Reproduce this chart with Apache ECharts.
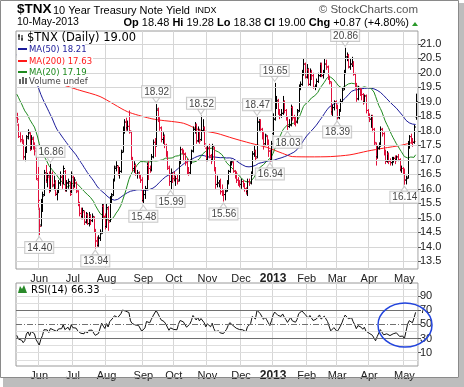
<!DOCTYPE html>
<html><head><meta charset="utf-8">
<script src="https://cdn.jsdelivr.net/npm/echarts@6/dist/echarts.min.js"></script>
<style>html,body{margin:0;padding:0;background:#fff}#c{width:464px;height:387px}</style>
</head><body><div id="c"></div>
<script>
// ---- DATA ----
// closes before the first visible bar (Mar 2 – May 10, 2012), used to warm up MA and RSI
const preCloses = [19.8,19.9,19.4,19.9,20.2,20.3,20.4,21.2,22.7,22.8,23.0,23.8,23.6,22.9,22.8,22.3,22.5,22.0,22.0,21.8,22.1,
  21.8,22.9,22.4,21.7,20.4,20.0,20.3,20.5,19.8,19.9,20.1,19.7,19.6,19.6,19.3,19.7,19.9,19.5,19.3,19.1,
  19.5,19.3,19.3,18.8,18.8,18.5,18.4,18.5];
// daily [open, high, low, close]
const may12 = [[18.45,18.62,18.27,18.40],[18.20,18.25,17.75,17.80],[17.80,17.95,17.60,17.65],[17.70,17.85,17.55,17.60],[17.60,17.70,17.00,17.10],[17.10,17.45,16.95,17.25],[17.30,17.85,17.25,17.75],[17.80,18.05,17.70,17.95],[17.90,17.95,17.30,17.35],[17.40,17.85,17.35,17.75],[17.70,17.80,17.35,17.45],[17.50,17.60,17.15,17.40],[17.30,17.40,16.30,16.35],[16.30,16.75,15.35,15.60]];
const jun12 = [[15.30,15.35,14.40,14.70],[14.75,15.65,14.70,15.30],[15.30,15.90,15.20,15.75],[15.80,16.65,15.75,16.55],[16.50,16.82,16.20,16.35],[16.30,16.55,16.05,16.45],[16.40,16.60,15.85,15.95],[15.95,16.86,15.90,16.50],[16.50,16.60,16.05,16.15],[16.10,16.45,15.95,16.20],[16.20,16.30,15.75,15.85],[15.80,16.00,15.60,15.90],[15.90,16.30,15.85,16.20],[16.20,16.60,16.10,16.40],[16.40,16.50,16.00,16.20],[16.20,16.80,16.15,16.70],[16.60,16.65,15.90,15.95],[15.95,16.30,15.90,16.20],[16.20,16.35,16.00,16.25],[16.20,16.25,15.75,15.80],[15.90,16.60,15.85,16.50]];
const jul12 = [[16.40,16.45,15.95,16.05],[16.10,16.40,16.05,16.30],[16.20,16.25,15.85,15.95],[15.90,15.95,15.40,15.50],[15.50,15.55,15.05,15.15],[15.15,15.35,14.95,15.05],[15.05,15.35,14.95,15.25],[15.20,15.25,14.75,14.85],[14.85,15.20,14.80,15.15],[15.10,15.15,14.75,14.80],[14.80,15.20,14.70,15.10],[15.05,15.10,14.75,14.90],[14.90,15.15,14.85,15.05],[15.00,15.05,14.50,14.60],[14.55,14.60,13.94,14.20],[14.20,14.35,14.00,14.05],[14.05,14.40,14.00,14.30],[14.30,14.60,14.20,14.45],[14.50,15.50,14.45,15.45],[15.40,15.45,14.95,15.05],[15.05,15.15,14.60,14.70]];
const aug12 = [[14.70,15.50,14.65,15.35],[15.30,15.40,14.55,14.85],[14.90,15.75,14.85,15.65],[15.60,15.85,15.50,15.75],[15.80,16.35,15.75,16.30],[16.30,16.80,16.25,16.75],[16.70,16.95,16.60,16.80],[16.75,16.80,16.45,16.55],[16.50,16.75,16.35,16.60],[16.60,17.35,16.55,17.25],[17.30,18.15,17.25,18.10],[18.10,18.40,17.90,18.30],[18.30,18.45,18.00,18.10],[18.10,18.35,18.00,18.15],[18.15,18.70,17.90,18.00],[17.95,18.00,17.00,17.05],[17.00,17.10,16.60,16.70],[16.70,16.95,16.55,16.85],[16.80,16.85,16.45,16.50],[16.50,16.65,16.35,16.55],[16.50,16.60,16.35,16.45],[16.45,16.50,16.20,16.30],[16.30,16.40,15.55,15.65]];
const sep12 = [[15.60,15.95,15.48,15.80],[15.80,16.10,15.65,16.00],[16.00,16.90,15.95,16.80],[16.80,16.95,16.30,16.70],[16.70,16.80,16.55,16.65],[16.65,17.20,16.60,17.10],[17.10,17.70,17.05,17.60],[17.60,17.75,17.10,17.50],[17.50,18.92,17.45,18.75],[18.70,18.80,18.30,18.45],[18.40,18.45,18.00,18.10],[18.10,18.15,17.60,17.70],[17.70,17.95,17.55,17.85],[17.80,17.85,17.40,17.50],[17.50,17.55,17.10,17.20],[17.20,17.30,16.65,16.75],[16.70,16.80,16.10,16.25],[16.25,16.70,15.99,16.55],[16.50,16.55,16.20,16.35]];
const oct12 = [[16.35,16.60,16.25,16.30],[16.30,16.45,16.10,16.35],[16.35,16.50,16.15,16.25],[16.30,17.00,16.25,16.90],[16.90,17.45,16.85,17.35],[17.35,17.40,17.20,17.30],[17.30,17.35,16.95,17.20],[17.20,17.25,16.80,16.90],[16.90,17.05,16.50,16.60],[16.60,16.75,16.45,16.55],[16.55,17.00,16.50,16.90],[16.90,17.35,16.85,17.30],[17.30,18.15,17.25,18.05],[18.05,18.30,17.90,18.20],[18.20,18.25,17.55,17.65],[17.65,18.15,17.60,18.05],[18.00,18.05,17.55,17.65],[17.70,18.52,17.65,18.00],[18.00,18.40,17.95,18.10],[18.10,18.15,17.45,17.55],[17.40,17.45,16.95,17.00]];
const nov12 = [[17.00,17.50,16.95,17.40],[17.40,17.55,17.05,17.15],[17.10,17.20,16.85,17.00],[17.00,17.55,16.95,17.45],[17.40,17.45,16.60,16.70],[16.70,16.75,16.00,16.15],[16.15,16.45,16.05,16.20],[16.20,16.30,16.05,16.25],[16.20,16.35,15.80,15.90],[15.90,16.15,15.75,15.85],[15.85,15.95,15.56,15.80],[15.80,16.00,15.60,15.90],[15.95,16.30,15.90,16.20],[16.20,16.65,16.15,16.60],[16.60,16.95,16.55,16.90],[16.90,17.00,16.80,16.95],[16.90,16.95,16.55,16.60],[16.60,16.65,16.35,16.40],[16.40,16.60,16.20,16.30],[16.30,16.40,16.10,16.20],[16.20,16.30,16.05,16.15]];
const dec12 = [[16.15,16.35,16.00,16.25],[16.25,16.30,16.05,16.10],[16.10,16.20,15.90,16.00],[16.00,16.05,15.80,15.90],[15.90,16.35,15.75,16.25],[16.25,16.35,16.10,16.20],[16.20,16.60,16.15,16.50],[16.50,17.30,16.45,17.20],[17.20,17.50,17.10,17.30],[17.30,17.35,16.95,17.05],[17.10,18.47,17.05,18.30],[18.30,18.40,18.00,18.35],[18.35,18.40,17.95,18.05],[18.05,18.10,17.70,17.90],[17.90,17.95,17.35,17.55],[17.55,17.90,17.50,17.85],[17.80,17.85,17.50,17.60],[17.60,17.70,17.10,17.30],[17.30,17.35,16.94,17.00],[17.00,17.65,16.95,17.55]];
const jan13 = [[17.90,18.60,17.85,18.40],[18.40,19.65,18.35,19.00],[19.00,19.20,18.75,19.05],[19.00,19.10,18.55,18.70],[18.70,18.75,18.40,18.55],[18.55,18.75,18.45,18.60],[18.60,19.20,18.55,19.00],[19.00,19.05,18.60,18.70],[18.70,18.75,18.35,18.45],[18.45,18.50,18.03,18.15],[18.15,18.40,18.10,18.20],[18.20,18.90,18.15,18.80],[18.80,18.85,18.35,18.45],[18.45,18.55,18.20,18.40],[18.40,18.50,18.15,18.30],[18.30,18.75,18.25,18.65],[18.70,19.60,18.65,19.50],[19.50,19.70,19.40,19.60],[19.60,20.10,19.55,20.00],[20.00,20.50,19.90,20.30],[20.30,20.35,19.80,19.85]];
const feb13 = [[19.85,20.30,19.80,20.15],[20.10,20.15,19.55,19.60],[19.60,20.15,19.55,20.05],[20.00,20.10,19.75,19.90],[19.90,20.00,19.45,19.50],[19.50,19.60,19.40,19.55],[19.55,19.80,19.50,19.70],[19.70,20.00,19.65,19.90],[19.90,20.35,19.85,20.30],[20.30,20.35,19.85,19.90],[19.90,20.10,19.80,20.00],[20.00,20.50,19.95,20.30],[20.30,20.45,20.10,20.20],[20.20,20.25,19.75,19.80],[19.80,19.90,19.60,19.70],[19.65,19.70,18.55,18.65],[18.65,18.90,18.50,18.80],[18.80,19.05,18.70,19.00],[19.00,19.05,18.75,18.85]];
const mar13 = [[18.85,18.90,18.39,18.45],[18.45,18.75,18.40,18.70],[18.70,19.10,18.65,19.00],[19.00,19.50,18.95,19.40],[19.45,20.10,19.40,20.00],[20.05,20.86,19.95,20.55],[20.50,20.70,20.40,20.60],[20.60,20.65,20.15,20.20],[20.20,20.50,20.10,20.30],[20.30,20.55,20.20,20.35],[20.30,20.40,19.90,19.95],[19.95,20.00,19.45,19.60],[19.60,19.65,19.00,19.10],[19.10,19.55,19.05,19.45],[19.45,19.50,19.20,19.40],[19.40,19.45,19.05,19.25],[19.25,19.30,18.90,19.00],[19.00,19.25,18.95,19.20],[19.20,19.25,18.60,18.70],[18.70,18.75,18.45,18.50]];
const apr13 = [[18.50,18.60,18.30,18.40],[18.40,18.55,18.10,18.50],[18.50,18.55,17.95,18.05],[18.05,18.10,17.50,17.60],[17.55,17.60,16.80,17.05],[17.10,17.50,17.05,17.40],[17.40,17.60,17.35,17.50],[17.50,18.15,17.45,18.05],[18.05,18.10,17.80,17.90],[17.90,17.95,17.15,17.25],[17.25,17.35,16.85,16.95],[16.95,17.30,16.90,17.20],[17.20,17.25,16.85,16.95],[16.95,17.05,16.80,16.90],[16.90,17.10,16.80,17.00],[17.00,17.10,16.90,17.05],[17.05,17.15,16.85,17.00],[17.00,17.15,16.95,17.10],[17.10,17.20,16.95,17.00],[17.00,17.05,16.60,16.65],[16.65,16.80,16.55,16.70],[16.70,16.75,16.50,16.65]];
const may13 = [[16.65,16.70,16.14,16.30],[16.30,16.45,16.15,16.35],[16.40,17.65,16.35,17.40],[17.45,17.85,17.40,17.80],[17.80,17.90,17.55,17.70],[17.70,17.75,17.45,17.60],[17.60,18.20,17.55,18.13],[18.48,19.28,18.38,19.00]];
// market holidays in the window (for the trading-day category axis)
const holidays = ['2012-05-28','2012-07-04','2012-09-03','2012-10-29','2012-10-30','2012-11-22','2012-12-25','2013-01-01','2013-01-21','2013-02-18','2013-03-29'];
// MA(200): [bar index, value]
const ma200Read = [[29,19.58],[39,19.40],[52,19.18],[69,18.66],[83,18.43],[89,18.37],[104,18.26],[114,18.03],[125,17.91],[135,17.74],[146,17.57],[156,17.43],[166,17.22],[172,17.11],[183,17.10],[196,17.11],[208,17.17],[219,17.30],[229,17.40],[240,17.50],[249,17.63]];
// labelled highs and lows: [bar index, value]
const peakLabels = [[21,16.86],[87,18.92],[115,18.52],[150,18.47],[161,19.65],[205,20.86]];
const troughLabels = [[14,14.40],[49,13.94],[79,15.48],[96,15.99],[129,15.56],[158,16.94],[169,18.03],[200,18.39],[242,16.14]];
const priceTicks = [13.5,14.0,14.5,15.0,15.5,16.0,16.5,17.0,17.5,18.0,18.5,19.0,19.5,20.0,20.5,21.0];
const rsiTicks = [10,30,50,70,90];
const monthNames = ['Jan','Feb','Mar','Apr','May','Jun','Jul','Aug','Sep','Oct','Nov','Dec'];

// ---- BUILD ----
const bars = [].concat(may12,jun12,jul12,aug12,sep12,oct12,nov12,dec12,jan13,feb13,mar13,apr13,may13);
const dates = [];
(function(){
  const d = new Date(Date.UTC(2012,4,11));
  const end = Date.UTC(2013,4,10);
  while (d.getTime() <= end) {
    const s = d.toISOString().slice(0,10);
    const wd = d.getUTCDay();
    if (wd !== 0 && wd !== 6 && holidays.indexOf(s) < 0) dates.push(s);
    d.setUTCDate(d.getUTCDate()+1);
  }
})();
const cats = dates.concat(['']);
const closes = bars.map(b => b[3]);
const all = preCloses.concat(closes);
const P = preCloses.length;
function ma(n){ return closes.map((c,i)=>{ const e=P+i; if(e-n+1<0) return null; let s=0; for(let k=e-n+1;k<=e;k++) s+=all[k]; return +(s/n).toFixed(3); }); }
const ma20 = ma(20), ma50 = ma(50);
const ma200 = closes.map(()=>null); ma200Read.forEach(p=>{ ma200[p[0]] = p[1]; });
// RSI(14), Wilder
const rsi = (function(){
  let ag=0, al=0; const out=[];
  for(let k=1;k<=14;k++){ const ch=all[k]-all[k-1]; if(ch>0) ag+=ch; else al-=ch; }
  ag/=14; al/=14;
  for(let k=15;k<all.length;k++){
    const ch=all[k]-all[k-1];
    ag=(ag*13+(ch>0?ch:0))/14; al=(al*13+(ch<0?-ch:0))/14;
    if(k>=P) out.push(+(100-100/(1+ag/al)).toFixed(2));
  }
  return out;
})();
const ohlcData = bars.map((b,i)=>{ const prev = i===0 ? preCloses[P-1] : closes[i-1]; return [i,b[0],b[1],b[2],b[3], b[3]>=prev?1:0]; });

function isMonthStart(i){ if(i<=0||i>=dates.length) return false; return dates[i].slice(5,7)!==dates[i-1].slice(5,7); }
function monthLabel(v){ if(!v) return ''; const m=+v.slice(5,7); if(m===1) return '{y|'+v.slice(0,4)+'}'; return monthNames[m-1]; }

const FONT = 'Liberation Sans, Arial, sans-serif';
const DV = '"DejaVu Sans", Verdana, sans-serif';
const RED = '#e0103c';

function xAxisCfg(gi){
  return { type:'category', gridIndex:gi, data:cats, boundaryGap:true,
    axisLine:{show:false}, axisTick:{show:false},
    axisLabel:{interval:(i)=>isMonthStart(i), formatter:monthLabel, fontFamily:FONT, fontSize:11, color:'#222', margin:4,
      rich:{y:{fontFamily:FONT,fontSize:12,fontWeight:'bold',color:'#222'}}},
    splitLine:{show:true, interval:(i)=>isMonthStart(i), lineStyle:{color:'#d6d6d6',width:1}} };
}

const Z = 100;
const option = {
  animation:false,
  grid:[
    {left:16, top:31, width:402, height:238, show:true, borderColor:'#9a9a9a', borderWidth:1, backgroundColor:'#fff'},
    {left:16, top:283, width:402, height:83, show:true, borderColor:'#9a9a9a', borderWidth:1, backgroundColor:'#fff'}
  ],
  xAxis:[xAxisCfg(0), xAxisCfg(1)],
  yAxis:[
    {type:'value', gridIndex:0, position:'right', min:13.234, max:21.44, splitLine:{show:false}, axisLine:{show:false},
     axisTick:{show:true, length:3, lineStyle:{color:'#555'}, customValues:priceTicks},
     axisLabel:{customValues:priceTicks, formatter:v=>v.toFixed(1), fontFamily:FONT, fontSize:11, color:'#222', margin:2}},
    {type:'value', gridIndex:1, position:'right', min:-8.7, max:108.3, splitLine:{show:false}, axisLine:{show:false},
     axisTick:{show:true, length:3, lineStyle:{color:'#555'}, customValues:rsiTicks},
     axisLabel:{customValues:rsiTicks, formatter:v=>String(v), fontFamily:FONT, fontSize:11, color:'#222', margin:2}}
  ],
  series:[
    {type:'line', name:'grid', xAxisIndex:0, yAxisIndex:0, data:closes.map(()=>null), silent:true, z:1,
     markLine:{silent:true, symbol:['none','none'], label:{show:false}, lineStyle:{color:'#d6d6d6', type:'solid', width:1},
       data:priceTicks.map(v=>({yAxis:v}))}},
    {type:'line', name:'rsigrid', xAxisIndex:1, yAxisIndex:1, data:closes.map(()=>null), silent:true, z:1,
     markLine:{silent:true, symbol:['none','none'], label:{show:false},
       data:[0,10,20,40,60,80,90,100].map(v=>({yAxis:v, lineStyle:{color:'#dedede',type:'solid',width:1}}))
         .concat([{yAxis:70,lineStyle:{color:'#707070',type:'solid',width:1}},{yAxis:30,lineStyle:{color:'#707070',type:'solid',width:1}},
                  {yAxis:50,lineStyle:{color:'#707070',type:[6,2,1,2],width:1}}])}},
    {type:'line', name:'MA200', data:ma200, connectNulls:true, smooth:0.25, showSymbol:false, symbol:'none', z:3,
     lineStyle:{color:'#ff1a1a', width:1}},
    {type:'line', name:'MA50', data:ma50, showSymbol:false, symbol:'none', z:3, lineStyle:{color:'#1c1c9a', width:1}},
    {type:'line', name:'MA20', data:ma20, showSymbol:false, symbol:'none', z:3, lineStyle:{color:'#1f8a1f', width:1}},
    {type:'custom', name:'TNX', xAxisIndex:0, yAxisIndex:0, data:ohlcData, z:4,
     encode:{x:0, y:[2,3]},
     renderItem:function(params, api){
       const i=api.value(0);
       const ph=api.coord([i,api.value(2)]), pl=api.coord([i,api.value(3)]);
       const po=api.coord([i,api.value(1)]), pc=api.coord([i,api.value(4)]);
       const x=Math.round(ph[0])+0.5; const col=api.value(5)?'#000':RED;
       return {type:'group', children:[
         {type:'line', shape:{x1:x,y1:ph[1],x2:x,y2:pl[1]}, style:{stroke:col,lineWidth:1}},
         {type:'line', shape:{x1:x-1.5,y1:po[1],x2:x,y2:po[1]}, style:{stroke:col,lineWidth:1}},
         {type:'line', shape:{x1:x,y1:pc[1],x2:x+1.5,y2:pc[1]}, style:{stroke:col,lineWidth:1}}
       ]};
     }},
    {type:'scatter', name:'peaks', data:peakLabels, z:6, symbol:'triangle', symbolRotate:180, symbolSize:[7,5], symbolOffset:[0,-4],
     itemStyle:{color:'#fff', borderColor:'#bdbdbd', borderWidth:1},
     label:{show:true, position:'top', distance:0, formatter:p=>p.value[1].toFixed(2), fontFamily:FONT, fontSize:10, color:'#111',
       backgroundColor:'#fff', borderColor:'#bdbdbd', borderWidth:1, padding:[1,1,0,2]}},
    {type:'scatter', name:'troughs', data:troughLabels, z:6, symbol:'triangle', symbolSize:[7,5], symbolOffset:[0,4],
     itemStyle:{color:'#fff', borderColor:'#bdbdbd', borderWidth:1},
     label:{show:true, position:'bottom', distance:0, formatter:p=>p.value[1].toFixed(2), fontFamily:FONT, fontSize:10, color:'#111',
       backgroundColor:'#fff', borderColor:'#bdbdbd', borderWidth:1, padding:[1,1,0,2]}},
    {type:'line', name:'RSI', xAxisIndex:1, yAxisIndex:1, data:rsi, showSymbol:false, symbol:'none', z:3, lineStyle:{color:'#111', width:1}}
  ],
  graphic:[
    // drop shadow frame
    {type:'rect', shape:{x:459,y:3,width:5,height:384}, style:{fill:'#bdbdbd'}, z:0},
    {type:'rect', shape:{x:3,y:378,width:461,height:9}, style:{fill:'#bdbdbd'}, z:0},
    {type:'rect', shape:{x:0.5,y:0.5,width:458,height:377}, style:{fill:'none', stroke:'#8a8a8a', lineWidth:1}, z:1},
    // header
    {type:'text', x:17, y:16, z:Z, style:{text:'$TNX', font:'bold 13.5px '+FONT, fill:'#000', textVerticalAlign:'bottom'}},
    {type:'text', x:53, y:16, z:Z, style:{text:'10 Year Treasury Note Yield', font:'11px '+FONT, fill:'#000', textVerticalAlign:'bottom'}},
    {type:'text', x:195, y:15.5, z:Z, style:{text:'INDX', font:'9px '+FONT, fill:'#000', textVerticalAlign:'bottom'}},
    {type:'text', x:418, y:15.5, z:Z, style:{text:'© StockCharts.com', font:'11.5px '+FONT, fill:'#555', textAlign:'right', textVerticalAlign:'bottom'}},
    {type:'text', x:17, y:28, z:Z, style:{text:'10-May-2013', font:'10.5px '+FONT, fill:'#000', textVerticalAlign:'bottom'}},
    {type:'text', x:409, y:28, z:Z, style:{text:'{b|Op} 18.48 {b|Hi} 19.28 {b|Lo} 18.38 {b|Cl} 19.00 {b|Chg} +0.87 (+4.80%)',
      font:'11px '+FONT, fill:'#000', textAlign:'right', textVerticalAlign:'bottom', rich:{b:{font:'bold 11px '+FONT, fill:'#000'}}}},
    {type:'polygon', z:Z, shape:{points:[[412,26],[418,26],[415,22]]}, style:{fill:'#2a9a2a'}},
    // legend (white text boxes)
    {type:'rect', z:Z, shape:{x:17,y:32,width:120,height:11}, style:{fill:'#fff'}},
    {type:'text', z:Z+1, x:27, y:32, style:{text:'$TNX (Daily) 19.00', font:'11.5px '+DV, fill:'#000'}},
    {type:'polyline', z:Z+1, shape:{points:[[19,34],[19,40]]}, style:{stroke:'#000',lineWidth:1}},
    {type:'polyline', z:Z+1, shape:{points:[[22,35],[22,41]]}, style:{stroke:'#000',lineWidth:1}},
    {type:'polyline', z:Z+1, shape:{points:[[18,36],[20,36]]}, style:{stroke:'#000',lineWidth:1}},
    {type:'polyline', z:Z+1, shape:{points:[[21,39],[23,39]]}, style:{stroke:'#000',lineWidth:1}},
    {type:'rect', z:Z, shape:{x:17,y:43,width:68,height:11}, style:{fill:'#fff'}},
    {type:'rect', z:Z+1, shape:{x:18,y:48,width:9,height:2}, style:{fill:'#1c1c9a'}},
    {type:'text', z:Z+1, x:29, y:45, style:{text:'MA(50) 18.21', font:'8.5px '+DV, fill:'#1c1c9a'}},
    {type:'rect', z:Z, shape:{x:17,y:54,width:76,height:12}, style:{fill:'#fff'}},
    {type:'rect', z:Z+1, shape:{x:18,y:60,width:9,height:2}, style:{fill:'#ff1a1a'}},
    {type:'text', z:Z+1, x:29, y:57, style:{text:'MA(200) 17.63', font:'8.5px '+DV, fill:'#ff1a1a'}},
    {type:'rect', z:Z, shape:{x:17,y:66,width:68,height:10}, style:{fill:'#fff'}},
    {type:'rect', z:Z+1, shape:{x:18,y:71,width:9,height:2}, style:{fill:'#1f8a1f'}},
    {type:'text', z:Z+1, x:29, y:68, style:{text:'MA(20) 17.19', font:'8.5px '+DV, fill:'#1f8a1f'}},
    {type:'rect', z:Z, shape:{x:17,y:76,width:76,height:10}, style:{fill:'#fff'}},
    {type:'rect', z:Z+1, shape:{x:19,y:79,width:2,height:5}, style:{fill:'#666'}},
    {type:'rect', z:Z+1, shape:{x:22,y:77,width:2,height:7}, style:{fill:'#666'}},
    {type:'rect', z:Z+1, shape:{x:25,y:78,width:2,height:6}, style:{fill:'#666'}},
    {type:'text', z:Z+1, x:29, y:77, style:{text:'Volume undef', font:'8.5px '+DV, fill:'#444'}},
    // RSI legend
    {type:'rect', z:Z, shape:{x:17,y:284,width:95,height:10}, style:{fill:'#fff'}},
    {type:'polygon', z:Z+1, shape:{points:[[18,293],[20,286],[22,289],[24,285],[27,293]]}, style:{fill:'#2a8a2a'}},
    {type:'text', z:Z+1, x:31, y:285, style:{text:'RSI(14) 66.33', font:'10px '+DV, fill:'#000'}},
    // highlight ellipse
    {type:'ellipse', z:Z+5, shape:{cx:405, cy:325, rx:27, ry:22}, style:{fill:'none', stroke:'#2244dd', lineWidth:1.5}}
  ]
};
const chart = echarts.init(document.getElementById('c'));
chart.setOption(option);
</script></body></html>
